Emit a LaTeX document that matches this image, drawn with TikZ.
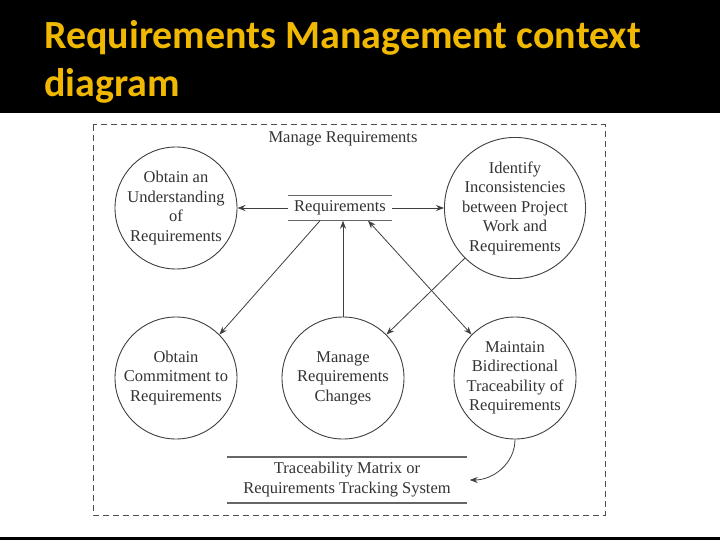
\documentclass[tikz,border=0pt]{standalone}
\usepackage{fontspec}
\newfontfamily\titlefont{Carlito}
\setmainfont{Liberation Serif}
\usetikzlibrary{arrows.meta}
\begin{document}
\begin{tikzpicture}[x=1pt,y=-1pt,
  proc/.style={draw=black!75,line width=0.9pt,circle,minimum size=122pt,inner sep=0pt,align=center,font=\fontsize{16.5}{19.5}\selectfont,text=black!80},
  conn/.style={draw=black!75,line width=0.8pt,-{Stealth[length=8pt,width=6pt]}},
  lbl/.style={font=\fontsize{16.5}{20}\selectfont,text=black!80,align=center}]
\fill[black] (0,0) rectangle (720,540);
\fill[white] (0,113) rectangle (720,537);
\node[anchor=north west,font=\titlefont\bfseries\fontsize{40}{48}\selectfont,text={rgb,255:red,240;green,184;blue,0},align=left,inner sep=0pt] (title) at (44,20) {Requirements Management context\\diagram};
\draw[dashed,black!70,line width=1pt,dash pattern=on 6pt off 4pt] (93,125) rectangle (605,515);
\node[lbl] (mr) at (343,139) {Manage Requirements};
\node[proc] (ou) at (176,208) {Obtain an\\Understanding\\of\\Requirements};
\node[proc] (ii) at (515,208) {Identify\\Inconsistencies\\between Project\\Work and\\Requirements};
\node[proc] (oc) at (176,378) {Obtain\\Commitment to\\Requirements};
\node[proc] (mc) at (343,378) {Manage\\Requirements\\Changes};
\node[proc] (mb) at (515,378) {Maintain\\Bidirectional\\Traceability of\\Requirements};
\node[lbl,minimum width=104pt,minimum height=25pt,inner sep=0pt] (req) at (340,208) {Requirements};
\draw[black!60,line width=1.5pt] (req.north west)--(req.north east) (req.south west)--(req.south east);
\node[lbl,minimum width=239pt,minimum height=45pt,inner sep=0pt] (tm) at (347,480) {Traceability Matrix or\\Requirements Tracking System};
\draw[black!60,line width=1.8pt] (tm.north west)--(tm.north east) (tm.south west)--(tm.south east);
\draw[conn] (req.west) -- (ou.east);
\draw[conn] (req.east) -- (ii.west);
\draw[conn] ([xshift=-20pt]req.south) -- (oc.45);
\draw[conn] (mc.north) -- (req.south -| mc.north);
\draw[conn] (ii.225) -- (mc.45);
\draw[conn,{Stealth[length=8pt,width=6pt]}-{Stealth[length=8pt,width=6pt]}] ([xshift=28pt]req.south) -- (mb.135);
\draw[conn] (mb.south) to[out=-90,in=0] ([xshift=3pt]tm.east);
\end{tikzpicture}
\end{document}
